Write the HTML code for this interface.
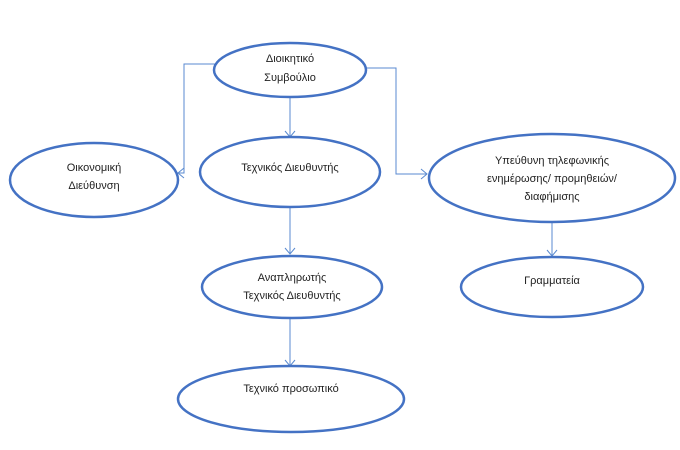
<!DOCTYPE html>
<html><head><meta charset="utf-8"><style>
html,body{margin:0;padding:0;background:#fff;}
svg{display:block;}
text{font-family:"Liberation Sans","DejaVu Sans",sans-serif;font-size:11px;fill:#222;text-anchor:middle;}
</style></head><body>
<svg width="680" height="450" viewBox="0 0 680 450" xmlns="http://www.w3.org/2000/svg">
<g fill="none" stroke="#5a8ad0" stroke-width="1">
<polyline points="215,64 184,64 184,173 178,173"/>
<polyline points="184,168 178,173 184,178"/>
<polyline points="366,68 396,68 396,174 427,174"/>
<polyline points="421,169 427,174 421,179"/>
<line x1="290" y1="98" x2="290" y2="137"/>
<polyline points="285,131 290,137 295,131"/>
<line x1="290" y1="207" x2="290" y2="254"/>
<polyline points="285,248 290,254 295,248"/>
<line x1="290" y1="318" x2="290" y2="366"/>
<polyline points="285,360 290,366 295,360"/>
<line x1="552" y1="223" x2="552" y2="256"/>
<polyline points="547,250 552,256 557,250"/>
</g>
<g fill="#fff" stroke="#4472c4" stroke-width="2.5">
<ellipse cx="290" cy="70" rx="76" ry="27"/>
<ellipse cx="94" cy="180" rx="84" ry="37"/>
<ellipse cx="290" cy="172" rx="90" ry="35"/>
<ellipse cx="552" cy="178" rx="123" ry="44"/>
<ellipse cx="292" cy="287" rx="90" ry="31"/>
<ellipse cx="552" cy="287" rx="91" ry="30"/>
<ellipse cx="291" cy="399" rx="113" ry="33"/>
</g>
<text x="290" y="62">Διοικητικό</text>
<text x="290" y="81">Συμβούλιο</text>
<text x="94" y="171">Οικονομική</text>
<text x="94" y="189">Διεύθυνση</text>
<text x="290" y="171">Τεχνικός Διευθυντής</text>
<text x="552" y="164">Υπεύθυνη τηλεφωνικής</text>
<text x="552" y="182">ενημέρωσης/ προμηθειών/</text>
<text x="552" y="200">διαφήμισης</text>
<text x="292" y="281">Αναπληρωτής</text>
<text x="292" y="299">Τεχνικός Διευθυντής</text>
<text x="552" y="284">Γραμματεία</text>
<text x="291" y="392">Τεχνικό προσωπικό</text>
</svg>
</body></html>
